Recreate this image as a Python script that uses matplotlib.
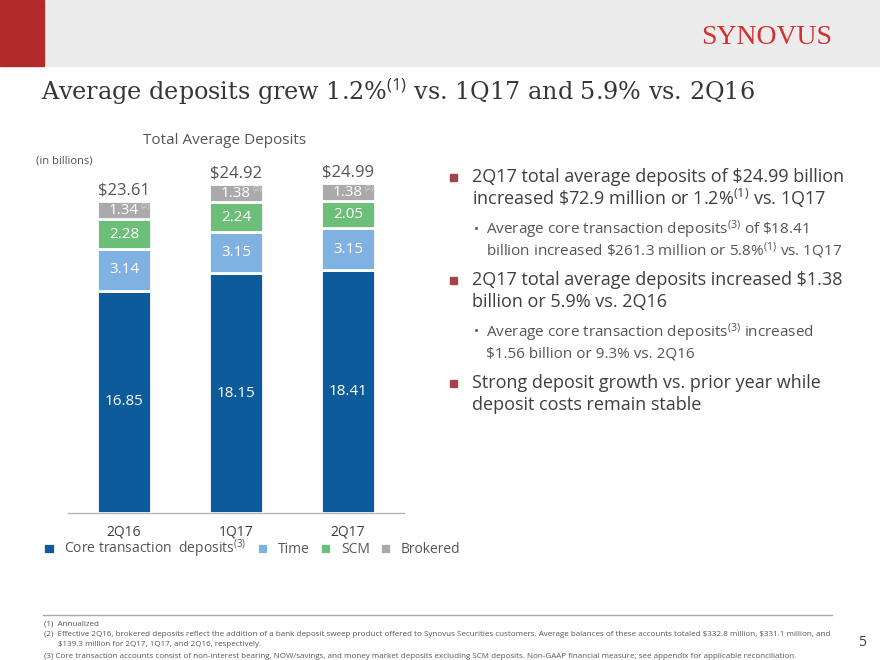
import matplotlib
matplotlib.use("Agg")
import matplotlib.pyplot as plt
from matplotlib.patches import Rectangle
import numpy as np

# chart data (in billions)
quarters = ["2Q16", "1Q17", "2Q17"]
core = [16.85, 18.15, 18.41]
time_dep = [3.14, 3.15, 3.15]
scm = [2.28, 2.24, 2.05]
brokered = [1.34, 1.38, 1.38]
totals = ["$23.61", "$24.92", "$24.99"]

series_names = ["Core transaction  deposits$^{(3)}$", "Time", "SCM", "Brokered"]
series_colors = ["#0E5B9B", "#7FB2E3", "#6BBF78", "#AAAAAA"]

W, H = 880, 660
plt.rcParams["font.family"] = ["Open Sans", "DejaVu Sans"]
plt.rcParams["mathtext.fontset"] = "custom"
plt.rcParams["mathtext.rm"] = "Open Sans"
plt.rcParams["mathtext.it"] = "Open Sans"

DARK = "#3E3E3E"
GREY = "#555555"
RED = "#A4434B"


def px(x, y):
    """pixel position (from top-left) -> figure fraction"""
    return x / W, 1 - y / H


fig = plt.figure(figsize=(W / 100, H / 100), dpi=100)

# header band
fig.patches.append(Rectangle(px(0, 66), 1, 66 / H, transform=fig.transFigure,
                             color="#ECECEC", zorder=0))
fig.patches.append(Rectangle(px(0, 66), 44 / W, 66 / H, transform=fig.transFigure,
                             color="#B32A2A", zorder=1))
fig.text(*px(767, 37), "SYNOVUS", family="Liberation Serif", fontsize=20,
         color="#D3302E", ha="center", va="center")

# slide title
fig.text(*px(41, 100), "Average deposits grew 1.2%$^{(1)}$ vs. 1Q17 and 5.9% vs. 2Q16",
         family="DejaVu Serif", fontsize=17.2, color="#363636", ha="left",
         va="baseline")

# chart area
ax = fig.add_axes([68 / W, (H - 513) / H, 336 / W, 396 / H])
bottom = np.zeros(len(quarters))
x = np.arange(len(quarters))
bars = []
for vals, col in zip([core, time_dep, scm, brokered], series_colors):
    b = ax.bar(x, vals, 0.49, bottom=bottom, color=col, edgecolor="white",
               linewidth=2.0)
    bars.append(b)
    bottom = bottom + np.array(vals)

ax.set_xlim(-0.5, 2.5)
ax.set_ylim(0, 30)
ax.set_yticks([])
for s in ["top", "left", "right"]:
    ax.spines[s].set_visible(False)
ax.spines["bottom"].set_color("#B5B5B5")
ax.spines["bottom"].set_linewidth(1.0)
ax.set_xticks(x)
ax.set_xticklabels(quarters, fontsize=10, color=DARK)
ax.tick_params(axis="x", length=0, pad=8)

# labels in the segments
for b, vals in zip(bars[:3], [core, time_dep, scm]):
    for rect, v in zip(b, vals):
        ax.text(rect.get_x() + rect.get_width() / 2, rect.get_y() + rect.get_height() / 2,
                f"{v:.2f}", ha="center", va="center", color="white", fontsize=11)
for rect, v in zip(bars[3], brokered):
    cx = rect.get_x() + rect.get_width() / 2
    cy = rect.get_y() + rect.get_height() / 2
    ax.text(cx, cy, f"{v:.2f}", ha="center", va="center", color="white", fontsize=11)
    ax.annotate("(2)", (cx, cy), xytext=(12, 3), textcoords="offset points",
                ha="left", va="center", color="#D8D8D8", fontsize=6)
for rect, t in zip(bars[3], totals):
    ax.annotate(t, (rect.get_x() + rect.get_width() / 2, rect.get_y() + rect.get_height()),
                xytext=(0, 2), textcoords="offset points", ha="center",
                va="bottom", color=GREY, fontsize=12)

fig.text(*px(225, 140), "Total Average Deposits", ha="center", va="center",
         fontsize=11, color=GREY)
fig.text(*px(36, 161), "(in billions)", ha="left", va="center", fontsize=8,
         color=GREY)

leg = ax.legend([b[0] for b in bars], series_names, loc="center",
                bbox_to_anchor=px(252, 549), bbox_transform=fig.transFigure,
                ncol=4, frameon=False, fontsize=10, handlelength=0.8,
                handleheight=0.8, handletextpad=0.7, columnspacing=0.75)
for t in leg.get_texts():
    t.set_color(GREY)

# right-hand bullets
bullets = [
    (177, ["2Q17 total average deposits of \\$24.99 billion",
           "increased \\$72.9 million or 1.2%$^{(1)}$ vs. 1Q17"], True),
    (230, ["Average core transaction deposits$^{(3)}$ of \\$18.41",
           "billion increased \\$261.3 million or 5.8%$^{(1)}$ vs. 1Q17"], False),
    (280, ["2Q17 total average deposits increased \\$1.38",
           "billion or 5.9% vs. 2Q16"], True),
    (333, ["Average core transaction deposits$^{(3)}$ increased",
           "\\$1.56 billion or 9.3% vs. 2Q16"], False),
    (383, ["Strong deposit growth vs. prior year while",
           "deposit costs remain stable"], True),
]
for y0, lines, main in bullets:
    if main:
        fig.patches.append(Rectangle(px(449.5, y0 + 3.5), 7 / W, 7 / H,
                                     transform=fig.transFigure, color=RED))
        for i, ln in enumerate(lines):
            fig.text(*px(472, y0 + i * 21.5), ln, ha="left", va="center",
                     fontsize=13, color=DARK)
    else:
        fig.text(*px(476, y0), "•", ha="center", va="center", fontsize=10, color=GREY)
        for i, ln in enumerate(lines):
            fig.text(*px(486, y0 + i * 20.5), ln, ha="left", va="center",
                     fontsize=11, color=GREY)

# footnotes
fig.add_artist(plt.Line2D([43 / W, 832 / W], [1 - 615 / H] * 2, color="#A8A8A8", lw=1))
foot = [
    (44, 624, "(1)  Annualized"),
    (44, 634, "(2)  Effective 2Q16, brokered deposits reflect the addition of a bank deposit sweep product offered to Synovus Securities customers. Average balances of these accounts totaled \\$332.8 million, \\$331.1 million, and"),
    (58, 645, "\\$139.3 million for 2Q17, 1Q17, and 2Q16, respectively."),
    (44, 656, "(3) Core transaction accounts consist of non-interest bearing, NOW/savings, and money market deposits excluding SCM deposits. Non-GAAP financial measure; see appendix for applicable reconciliation."),
]
for fx, fy, t in foot:
    fig.text(*px(fx, fy), t, ha="left", va="center", fontsize=5.75, color=GREY)
fig.text(*px(862, 643), "5", ha="center", va="center", fontsize=10, color=DARK)

fig.savefig("out.png", dpi=100)
